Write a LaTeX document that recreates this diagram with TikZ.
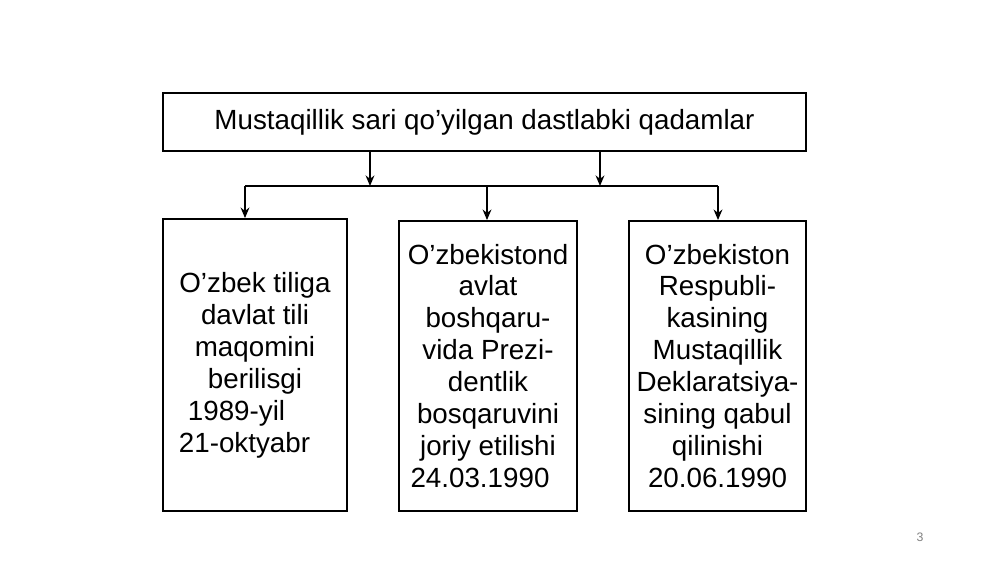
\documentclass[tikz,border=0pt]{standalone}
\usepackage{fontspec}
\setmainfont{Liberation Sans}
\usetikzlibrary{calc,arrows.meta}

\tikzset{
  box/.style={draw, line width=1.1pt, inner sep=0pt, align=center,
    font=\fontsize{15.8}{18.2}\selectfont},
  link/.style={line width=1.1pt},
  arr/.style={link, -{Stealth[length=6pt,width=5pt]}}
}
% trailing blank at the end of a line
\newcommand{\tail}[1]{\rule{#1}{0pt}}

\begin{document}
\begin{tikzpicture}[x=0.02cm,y=-0.02cm]
\useasboundingbox (0,0) rectangle (1000,562);

\node [box, minimum width=12.86cm, minimum height=1.16cm] (title) at (484.5,122)
  {Mustaqillik sari qo’yilgan dastlabki qadamlar};

\node [box, minimum width=3.68cm, minimum height=5.84cm] (til) at (255,365)
  {O’zbek tiliga\\ davlat tili\\ maqomini\\ berilisgi\\ 1989-yil\tail{0.74cm}\\ 21-oktyabr\tail{0.42cm}};
\node [box, minimum width=3.56cm, minimum height=5.8cm] (prez) at (488,366)
  {O’zbekistond\\ avlat\\ boshqaru-\\ vida Prezi-\\ dentlik\\ bosqaruvini\\ joriy etilishi\\ 24.03.1990\tail{0.32cm}};
\node [box, minimum width=3.54cm, minimum height=5.8cm] (dekl) at (717.5,366)
  {O’zbekiston\\ Respubli-\\ kasining\\ Mustaqillik\\ Deklaratsiya-\\ sining qabul\\ qilinishi\\ 20.06.1990};

% branching line
\coordinate (bl) at (245,186);
\coordinate (bm) at (487,186);
\coordinate (br) at (718,186);
\draw [link] (bl) -- (br);

\draw [arr] (title.south -| 370,0) -- (bl -| 370,0);
\draw [arr] (title.south -| 600,0) -- (bl -| 600,0);
\draw [arr] (bl) -- (bl |- til.north);
\draw [arr] (bm) -- (bm |- prez.north);
\draw [arr] (br) -- (br |- dekl.north);

\node [gray, font=\fontsize{7}{8}\selectfont] (page) at (920,537) {3};
\end{tikzpicture}
\end{document}
